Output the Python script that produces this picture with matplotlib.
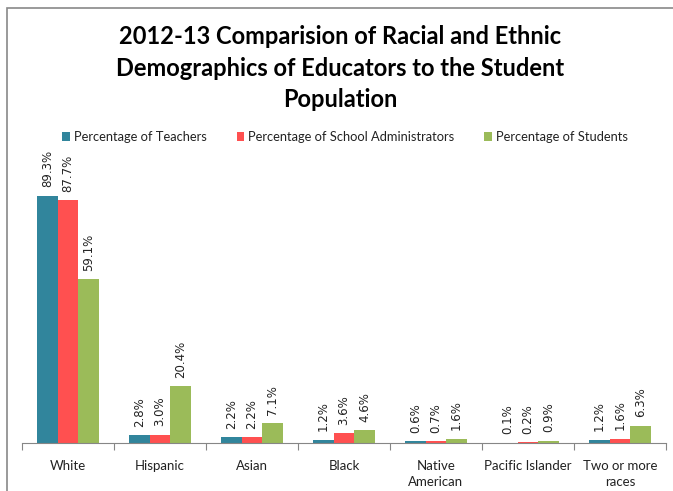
import matplotlib.pyplot as plt
import matplotlib.patches as mpatches
import numpy as np

categories = ["White", "Hispanic", "Asian", "Black", "Native\nAmerican",
              "Pacific Islander", "Two or more\nraces"]
teachers = [89.3, 2.8, 2.2, 1.2, 0.6, 0.1, 1.2]
admins = [87.7, 3.0, 2.2, 3.6, 0.7, 0.2, 1.6]
students = [59.1, 20.4, 7.1, 4.6, 1.6, 0.9, 6.3]
series_names = ["Percentage of Teachers", "Percentage of School Administrators",
                "Percentage of Students"]
colors = ["#31859C", "#FF5050", "#9BBB59"]

plt.rcParams['font.family'] = ['Lato', 'DejaVu Sans']

fig = plt.figure(figsize=(6.73, 4.91), dpi=100)
W, H = 673, 491

# outer chart border (runs off the right and bottom edges)
fig.patches.append(mpatches.Rectangle((7 / W, -0.1), 1.1, 1.1 - 8 / H, transform=fig.transFigure,
                                      fill=False, edgecolor="#898989", linewidth=1.2))

ax = fig.add_axes([22 / W, 1 - 443 / H, (666 - 22) / W, (443 - 166) / H])

x = np.arange(len(categories))
w = 0.223
for k, (vals, name, c) in enumerate(zip([teachers, admins, students], series_names, colors)):
    pos = x + (k - 1) * w
    ax.bar(pos, vals, width=w, color=c, label=name)
    for p, v in zip(pos, vals):
        ax.annotate(f"{v:.1f}%", (p, v), xytext=(0, 6), textcoords="offset points",
                    rotation=90, ha="center", va="bottom", fontsize=8.5, color="#222222",
                    family="DejaVu Sans")

ax.set_xlim(-0.5, len(categories) - 0.5)
ax.set_ylim(0, 100)
ax.set_yticks([])
for s in ["top", "right", "left"]:
    ax.spines[s].set_visible(False)
ax.spines["bottom"].set_color("#868686")
ax.set_xticks(np.arange(len(categories) + 1) - 0.5, minor=False)
ax.set_xticklabels([])
ax.tick_params(axis="x", length=5, color="#868686")
for i, c in enumerate(categories):
    ax.text(i, -6, c, ha="center", va="top", fontsize=9.5, color="#222222",
            linespacing=1.4)

fig.text(340 / W, 1 - 68 / H,
         "2012-13 Comparision of Racial and Ethnic\nDemographics of Educators to the Student\nPopulation",
         ha="center", va="center", fontsize=17, fontweight="bold", linespacing=1.45)

ax.legend(loc="center", bbox_to_anchor=(345 / W, 1 - 137 / H), bbox_transform=fig.transFigure,
          ncol=3, frameon=False, fontsize=9.3, handlelength=0.6, handleheight=0.6,
          handletextpad=0.3, columnspacing=2.3, labelcolor="#222222")

fig.savefig("out.png", dpi=100)
